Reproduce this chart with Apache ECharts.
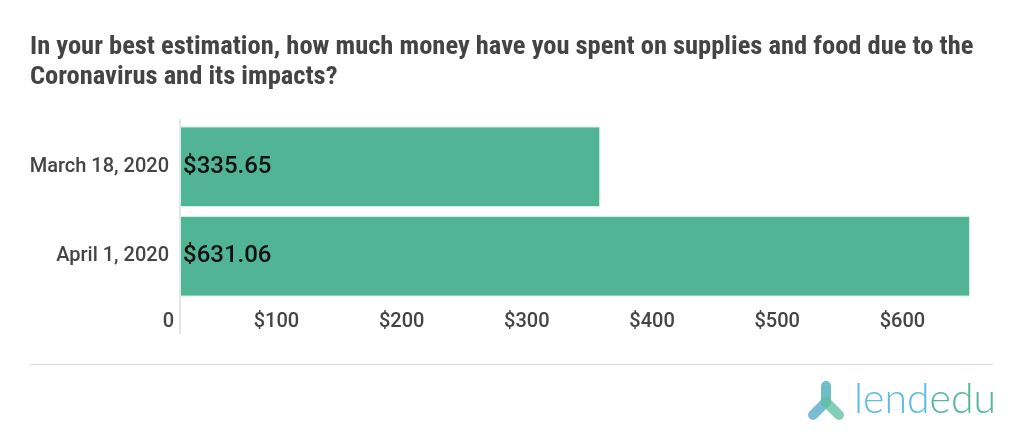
<!DOCTYPE html>
<html>
<head>
<meta charset="utf-8">
<script src="https://cdn.jsdelivr.net/npm/echarts@6/dist/echarts.min.js"></script>
<style>
html,body{margin:0;padding:0;background:#fff;}
#c{width:1024px;height:439px;}
</style>
</head>
<body>
<div id="c"></div>
<script>
const titleText = 'In your best estimation, how much money have you spent on supplies and food due to the\nCoronavirus and its impacts?';
const categories = ['March 18, 2020', 'April 1, 2020'];
const spending = [335.65, 631.06];
const tickStep = 100;

const chart = echarts.init(document.getElementById('c'));
const baseFont = 'Roboto, "Noto Sans", sans-serif';
chart.setOption({
  backgroundColor: '#ffffff',
  animation: false,
  title: {
    text: titleText,
    left: 30,
    top: 32,
    padding: 0,
    textStyle: {
      fontFamily: '"Roboto Condensed","Liberation Sans Narrow","DejaVu Sans Condensed",sans-serif',
      fontWeight: 'bold',
      fontSize: 26.5,
      lineHeight: 30,
      color: '#444444'
    }
  },
  grid: { left: 180, right: 54, top: 122, height: 179, containLabel: false },
  xAxis: {
    type: 'value',
    min: 0,
    max: 'dataMax',
    interval: tickStep,
    axisLine: { show: false },
    axisTick: { show: false },
    splitLine: { show: false },
    axisLabel: {
      fontFamily: baseFont,
      fontSize: 20,
      fontWeight: 500,
      color: '#444444',
      margin: 11,
      align: 'right',
      padding: [0, 6, 0, 0],
      showMaxLabel: false,
      formatter: v => (v % tickStep === 0 ? (v === 0 ? '0' : '$' + v) : '')
    }
  },
  yAxis: {
    type: 'category',
    inverse: true,
    data: categories,
    axisLine: { show: false },
    axisTick: { show: false },
    axisLabel: { fontFamily: baseFont, fontSize: 20, fontWeight: 500, color: '#444444', margin: 11 }
  },
  series: [{
    type: 'bar',
    data: spending,
    barCategoryGap: '10%',
    itemStyle: { color: '#51b494', borderColor: '#d4efe5', borderWidth: 1 },
    label: {
      show: true,
      position: 'insideLeft',
      distance: 3,
      fontFamily: baseFont,
      fontSize: 24,
      fontWeight: 500,
      color: '#111111',
      formatter: p => '$' + p.value.toFixed(2)
    }
  }]
});

const x0 = chart.convertToPixel({ xAxisIndex: 0 }, 0);
chart.setOption({
  graphic: [
    { type: 'line', shape: { x1: x0, y1: 119, x2: x0, y2: 334 }, style: { stroke: '#cccccc', lineWidth: 1 }, silent: true },
    { type: 'line', shape: { x1: 30, y1: 364.5, x2: 993, y2: 364.5 }, style: { stroke: '#dddddd', lineWidth: 1 }, silent: true },
    { type: 'group', left: 808, top: 381, children: [
      { type: 'line', shape: { x1: 20, y1: 6, x2: 20, y2: 22 }, style: { stroke: 'rgba(86,178,190,0.85)', lineWidth: 10, lineCap: 'round' } },
      { type: 'line', shape: { x1: 20, y1: 22, x2: 7, y2: 35 }, style: { stroke: 'rgba(90,170,200,0.8)', lineWidth: 10, lineCap: 'round' } },
      { type: 'line', shape: { x1: 20, y1: 22, x2: 33, y2: 35 }, style: { stroke: 'rgba(100,195,160,0.8)', lineWidth: 10, lineCap: 'round' } }
    ]},
    { type: 'text', left: 854, top: 379, style: {
      text: '{a|lend}{b|edu}',
      rich: {
        a: { fontFamily: 'Lato, "Open Sans", sans-serif', fontWeight: 300, fontSize: 41, fill: '#5bbde6' },
        b: { fontFamily: 'Lato, "Open Sans", sans-serif', fontWeight: 300, fontSize: 41, fill: '#56b894' }
      }
    } }
  ]
});
</script>
</body>
</html>
